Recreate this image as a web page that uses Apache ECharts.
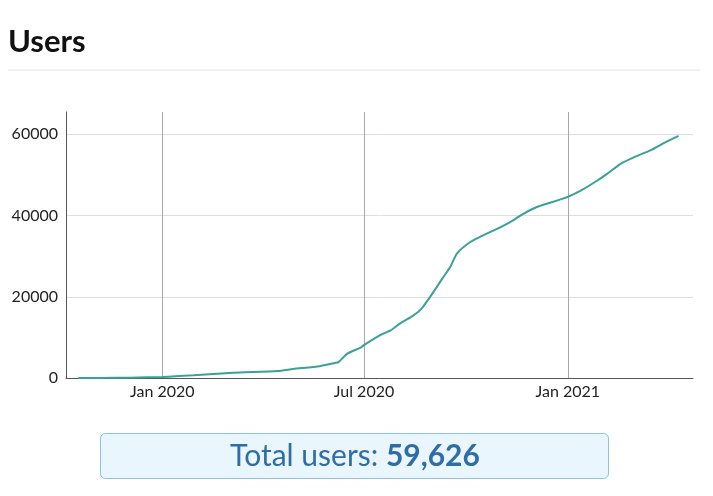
<!DOCTYPE html>
<html>
<head>
<meta charset="utf-8">
<script src="https://cdn.jsdelivr.net/npm/echarts@6/dist/echarts.min.js"></script>
<style>
  html, body { margin: 0; padding: 0; background: #fff; }
  #main { width: 713px; height: 496px; }
</style>
</head>
<body>
<div id="main"></div>
<script>
// cumulative users
var dates = [
  '2019-10-17', '2019-11-06', '2019-12-03', '2020-01-01', '2020-01-29',
  '2020-03-05', '2020-04-14', '2020-04-28', '2020-05-22', '2020-06-05',
  '2020-06-08', '2020-06-16', '2020-06-28', '2020-07-01', '2020-07-16',
  '2020-07-25', '2020-08-03', '2020-08-14', '2020-08-22', '2020-09-01',
  '2020-09-10', '2020-09-17', '2020-09-23', '2020-10-05', '2020-10-17',
  '2020-11-01', '2020-11-13', '2020-11-21', '2020-12-04', '2020-12-19',
  '2021-01-01', '2021-01-13', '2021-01-28', '2021-02-06', '2021-02-18',
  '2021-03-02', '2021-03-17', '2021-03-29', '2021-04-11'
];
var users = [
  0, 20, 90, 250, 650,
  1300, 1700, 2200, 2900, 3700,
  3900, 6000, 7500, 8100, 10600,
  11700, 13500, 15300, 17100, 20900,
  24600, 27400, 30700, 33500, 35200,
  37100, 38900, 40300, 42100, 43400,
  44600, 46200, 48700, 50400, 52800,
  54400, 56100, 57900, 59626
];
var xTicks = ['2020-01-01', '2020-07-01', '2021-01-01'];
var yTicks = [0, 20000, 40000, 60000];
var totalUsers = 59626;

var monthNames = ['Jan', 'Feb', 'Mar', 'Apr', 'May', 'Jun', 'Jul', 'Aug', 'Sep', 'Oct', 'Nov', 'Dec'];

function toTime(s) {
  var p = s.split('-');
  return new Date(+p[0], +p[1] - 1, +p[2]).getTime();
}

var chart = echarts.init(document.getElementById('main'));

var seriesData = dates.map(function(d, i) {
  return [toTime(d), users[i]];
});
var xTickTimes = xTicks.map(toTime);

chart.setOption({
  animation: false,
  textStyle: { fontFamily: 'Lato' },
  title: {
    text: 'Users',
    left: 3,
    top: 21,
    textStyle: { fontFamily: 'Lato', fontSize: 31, fontWeight: 'bold', color: '#111' }
  },
  graphic: [
    {
      type: 'line',
      shape: { x1: 8, y1: 70, x2: 700, y2: 70 },
      style: { stroke: '#e4e4e4', lineWidth: 1 }
    },
    {
      type: 'rect',
      shape: { x: 100.5, y: 433.5, width: 508, height: 45, r: 5 },
      style: { fill: '#eaf6fd', stroke: '#8cc2df', lineWidth: 1 }
    },
    {
      type: 'text',
      x: 355,
      y: 456,
      style: {
        text: '{a|Total users: }{b|' + totalUsers.toLocaleString('en-US') + '}',
        align: 'center',
        verticalAlign: 'middle',
        rich: {
          a: { fontFamily: 'Lato', fontSize: 30, fill: '#2f6da8' },
          b: { fontFamily: 'Lato', fontSize: 30, fontWeight: 'bold', fill: '#2f6da8' }
        }
      }
    }
  ],
  grid: {
    left: 66,
    right: 20,
    top: 112,
    bottom: 118
  },
  xAxis: {
    type: 'value',
    min: toTime('2019-10-06'),
    max: toTime('2021-04-24'),
    axisLine: { lineStyle: { color: '#555', width: 1 } },
    axisTick: { show: false, customValues: xTickTimes },
    axisLabel: {
      customValues: xTickTimes,
      color: '#222',
      fontSize: 16,
      margin: 6,
      formatter: function(v) {
        var d = new Date(v);
        return monthNames[d.getMonth()] + ' ' + d.getFullYear();
      }
    },
    splitLine: { show: true, lineStyle: { color: '#a8a8a8', width: 1 } }
  },
  yAxis: {
    type: 'value',
    min: 0,
    max: 65500,
    axisLine: { show: true, lineStyle: { color: '#555', width: 1 } },
    axisTick: { show: false, customValues: yTicks },
    axisLabel: {
      customValues: yTicks,
      color: '#222',
      fontSize: 16,
      margin: 8,
      formatter: function(v) { return String(v); }
    },
    splitLine: { show: true, lineStyle: { color: '#dedede', width: 1 } }
  },
  series: [{
    name: 'Users',
    type: 'line',
    data: seriesData,
    showSymbol: false,
    smooth: 0.2,
    lineStyle: { color: '#3aa198', width: 2 },
    itemStyle: { color: '#3aa198' }
  }]
});
</script>
</body>
</html>
